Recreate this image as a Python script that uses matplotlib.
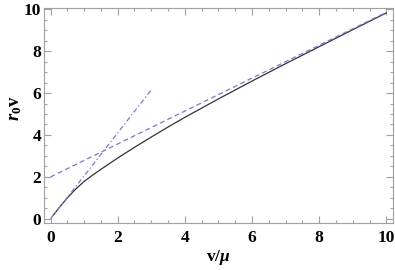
import numpy as np
import matplotlib
matplotlib.use('Agg')
import matplotlib.pyplot as plt
from matplotlib.ticker import MultipleLocator

#data
v_mu = [0.08, 0.25, 0.5, 0.75, 1.0, 1.25, 1.5, 2.0, 2.5, 3.0, 3.5, 4.0,
        4.5, 5.0, 6.0, 7.0, 8.0, 9.0, 10.0]
r0v = [0.17, 0.52, 1.0, 1.42, 1.785, 2.08, 2.36, 2.9, 3.41, 3.9, 4.38, 4.84,
       5.28, 5.72, 6.57, 7.4, 8.21, 9.02, 9.82]

#asymptotes
large_x = [0.0, 10.0]
large_y = [2.0, 9.85]
small_x = [0.0, 3.0]
small_y = [0.0, 6.15]

plt.rcParams['mathtext.fontset'] = 'custom'
plt.rcParams['mathtext.rm'] = 'Liberation Serif:bold'
plt.rcParams['mathtext.it'] = 'Liberation Serif:italic:bold'
plt.rcParams['mathtext.bf'] = 'Liberation Serif:bold'

FRAME = '#a0a0a0'
ASYM = '#7b7bcc'

fig = plt.figure(figsize=(3.95, 2.7), dpi=100)
ax = fig.add_axes([0.111, 0.174, 0.884, 0.796])

ax.plot(v_mu, r0v, color='#333333', lw=0.9)
ax.plot(large_x, large_y, color=ASYM, lw=0.9, dashes=(4, 2.5))
ax.plot(small_x, small_y, color=ASYM, lw=0.9, dashes=(4, 2, 1, 2))

ax.set_xlim(-0.2, 10.2)
ax.set_ylim(-0.2, 10.05)

ax.xaxis.set_major_locator(MultipleLocator(2))
ax.xaxis.set_minor_locator(MultipleLocator(0.5))
ax.yaxis.set_major_locator(MultipleLocator(2))
ax.yaxis.set_minor_locator(MultipleLocator(0.5))
ax.tick_params(which='both', direction='in', top=True, right=True,
               color=FRAME, width=0.8)
ax.tick_params(which='major', length=5)
ax.tick_params(which='minor', length=2.5)
ax.tick_params(axis='y', which='major', pad=2)
ax.tick_params(axis='x', which='major', pad=5)

for s in ax.spines.values():
    s.set_color(FRAME)
    s.set_linewidth(0.8)

for lab in ax.get_xticklabels() + ax.get_yticklabels():
    lab.set_fontfamily('Liberation Serif')
    lab.set_fontweight('bold')
    lab.set_fontsize(12.5)

fig.text(0.552, 0.048, r'$\mathrm{v}/\mu$', fontsize=12.5, ha='center', va='center')
fig.text(0.037, 0.6, r'$r_0\mathrm{v}$', fontsize=13.5, ha='center', va='center',
         rotation=90)

fig.savefig('out.png', dpi=100)
